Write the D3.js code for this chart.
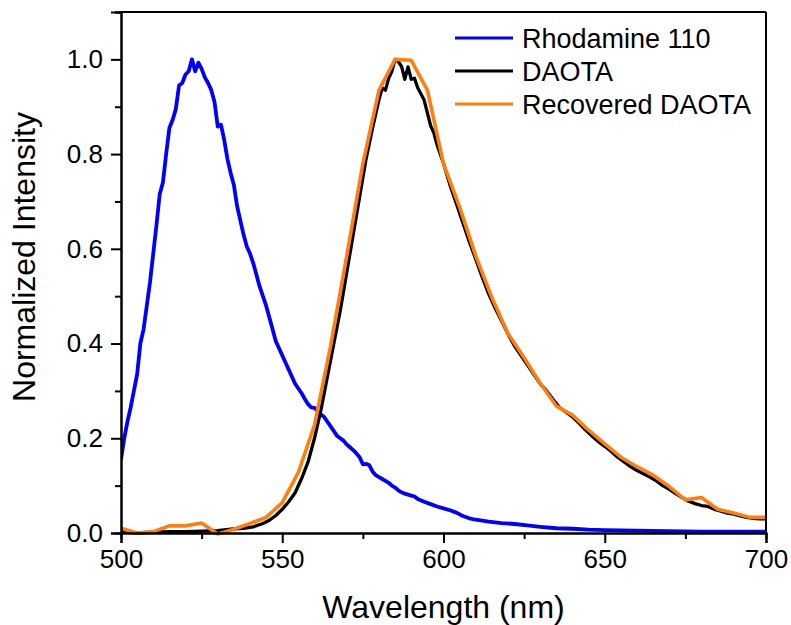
<!DOCTYPE html>
<html><head><meta charset="utf-8">
<script src="https://cdn.jsdelivr.net/npm/d3@7"></script>
<style>body{margin:0;background:#fff}svg{display:block}text{font-family:"Liberation Sans",Arial,sans-serif}</style>
</head><body><svg id="c" width="791" height="625"></svg>
<script>
const seriesNames = ["Rhodamine 110", "DAOTA", "Recovered DAOTA"];
const seriesColors = ["#0000ff", "#000000", "#ff7f0e"];
const xTicks = [500, 550, 600, 650, 700];
const yTicks = [0.0, 0.2, 0.4, 0.6, 0.8, 1.0];

const rhodWl = [500,501,502,503,504,505,506,507,508,509,510,511,512,513,514,515,516,517,518,519,520,521,522,523,524,525,526,527,528,529,530,531,532,533,534,535,536,537,538,539,540,541,542,543,544,545,546,547,548,549,550,551,552,553,554,555,556,557,558,559,560,561,562,563,564,565,566,567,568,569,570,571,572,573,574,575,576,577,578,579,580,581,582,583,584,585,586,587,588,589,590,591,592,594,596,598,600,602,604,606,608,610,614,618,622,626,630,635,640,645,650,660,670,680,690,700];
const rhodVal = [0.154,0.2,0.235,0.265,0.30,0.335,0.40,0.43,0.48,0.53,0.59,0.65,0.715,0.74,0.80,0.855,0.872,0.895,0.945,0.95,0.968,0.975,1.0,0.975,0.993,0.98,0.962,0.95,0.935,0.91,0.858,0.862,0.83,0.79,0.76,0.735,0.69,0.66,0.63,0.605,0.59,0.57,0.545,0.52,0.50,0.48,0.455,0.43,0.405,0.39,0.375,0.36,0.345,0.33,0.315,0.305,0.295,0.283,0.272,0.265,0.264,0.258,0.25,0.245,0.235,0.225,0.215,0.205,0.2,0.195,0.187,0.181,0.175,0.168,0.16,0.145,0.146,0.143,0.13,0.122,0.118,0.114,0.11,0.106,0.1,0.096,0.09,0.086,0.083,0.081,0.079,0.077,0.072,0.066,0.061,0.056,0.052,0.048,0.043,0.036,0.031,0.028,0.024,0.021,0.019,0.016,0.013,0.010,0.009,0.007,0.006,0.005,0.004,0.003,0.003,0.003];

const daotaWl = [500,505,510,515,520,525,530,534,538,541,544,546,548,550,552,554,556,558,560,562,564,566,568,570,572,574,576,578,580,581,582,583,584,585,586,587,588,589,590,591,592,594,596,597,598,600,602,604,606,608,610,612,614,616,618,620,622,624,626,628,630,632,634,636,638,640,642,644,646,648,650,652,654,656,658,660,662,664,666,668,670,672,674,676,678,680,682,684,686,688,690,692,694,696,698,700];
const daotaVal = [0.003,0.0,0.002,0.003,0.003,0.004,0.005,0.008,0.010,0.013,0.02,0.027,0.037,0.05,0.066,0.085,0.115,0.15,0.2,0.26,0.33,0.40,0.47,0.55,0.63,0.71,0.79,0.855,0.915,0.94,0.935,0.96,0.975,1.0,0.995,0.985,0.958,0.984,0.958,0.96,0.94,0.914,0.86,0.845,0.82,0.78,0.735,0.695,0.655,0.615,0.578,0.54,0.505,0.475,0.448,0.42,0.395,0.375,0.355,0.335,0.315,0.3,0.282,0.265,0.255,0.245,0.232,0.218,0.205,0.193,0.183,0.172,0.16,0.15,0.14,0.132,0.125,0.118,0.11,0.1,0.092,0.083,0.075,0.067,0.062,0.058,0.056,0.05,0.046,0.042,0.04,0.036,0.033,0.031,0.03,0.03];

const recWl = [500,505,510,515,520,525,530,535,540,545,550,555,560,565,570,575,580,585,590,595,600,605,610,615,620,625,630,635,640,645,650,655,660,665,670,675,680,685,690,695,700];
const recVal = [0.010,0.0,0.003,0.015,0.015,0.021,-0.002,0.008,0.02,0.033,0.064,0.128,0.228,0.395,0.585,0.78,0.935,1.0,0.998,0.935,0.78,0.688,0.585,0.497,0.421,0.37,0.316,0.268,0.249,0.217,0.188,0.16,0.14,0.122,0.098,0.07,0.075,0.05,0.042,0.033,0.033];

const svg = d3.select("#c");
const L = 121, R = 766, T = 12, B = 533;
const x = d3.scaleLinear().domain([500, 700]).range([L, R]);
const y = d3.scaleLinear().domain([0, 1.1]).range([B, T]);

const line = d3.line().x(d => x(d[0])).y(d => y(d[1]));
const sets = [
  d3.zip(rhodWl, rhodVal),
  d3.zip(daotaWl, daotaVal),
  d3.zip(recWl, recVal)
];
const widths = [3.8, 3.3, 3.6];
svg.append("clipPath").attr("id","clp").append("rect").attr("x",L).attr("y",T).attr("width",R-L).attr("height",B-T+3);
const g = svg.append("g").attr("clip-path","url(#clp)");
[0,1,2].forEach(i => {
  g.append("path").datum(sets[i]).attr("fill","none").attr("stroke",seriesColors[i])
    .attr("stroke-width",widths[i]).attr("stroke-linejoin","round").attr("d",line);
});

// frame top/right
svg.append("line").attr("x1",L).attr("x2",R).attr("y1",T).attr("y2",T).attr("stroke","#000").attr("stroke-width",2);
svg.append("line").attr("x1",R).attr("x2",R).attr("y1",T).attr("y2",B).attr("stroke","#000").attr("stroke-width",2);

// axes
const xAxis = d3.axisBottom(x).tickValues(xTicks).tickFormat(d3.format("d")).tickSize(10).tickPadding(7);
const xMinor = d3.axisBottom(x).tickValues([525,575,625,675]).tickFormat("").tickSize(6);
const yAxis = d3.axisLeft(y).tickValues(yTicks).tickFormat(d3.format(".1f")).tickSize(10).tickPadding(8);
const yMinor = d3.axisLeft(y).tickValues([0.1,0.3,0.5,0.7,0.9,1.1]).tickFormat("").tickSize(6);

function style(sel){
  sel.select(".domain").attr("stroke","#000").attr("stroke-width",2);
  sel.selectAll(".tick line").attr("stroke","#000").attr("stroke-width",2);
  sel.selectAll(".tick text").attr("fill","#000").style("font-size","26px");
}
svg.append("g").attr("transform",`translate(0,${B})`).call(xMinor).call(style);
svg.append("g").attr("transform",`translate(0,${B})`).call(xAxis).call(style);
svg.append("g").attr("transform",`translate(${L},0)`).call(yMinor).call(style);
svg.append("g").attr("transform",`translate(${L},0)`).call(yAxis).call(style);

// titles
svg.append("text").attr("x",(L+R)/2).attr("y",618).attr("text-anchor","middle")
  .style("font-size","32px").text("Wavelength (nm)");
svg.append("text").attr("transform","translate(35,257) rotate(-90)").attr("text-anchor","middle")
  .style("font-size","32px").text("Normalized Intensity");

// legend
const lg = svg.append("g");
seriesNames.forEach((n,i) => {
  const yy = 38 + i*33;
  lg.append("line").attr("x1",455).attr("x2",513).attr("y1",yy).attr("y2",yy)
    .attr("stroke",seriesColors[i]).attr("stroke-width",3.2);
  lg.append("text").attr("x",522).attr("y",yy+10).style("font-size","27px").text(n);
});
</script></body></html>
